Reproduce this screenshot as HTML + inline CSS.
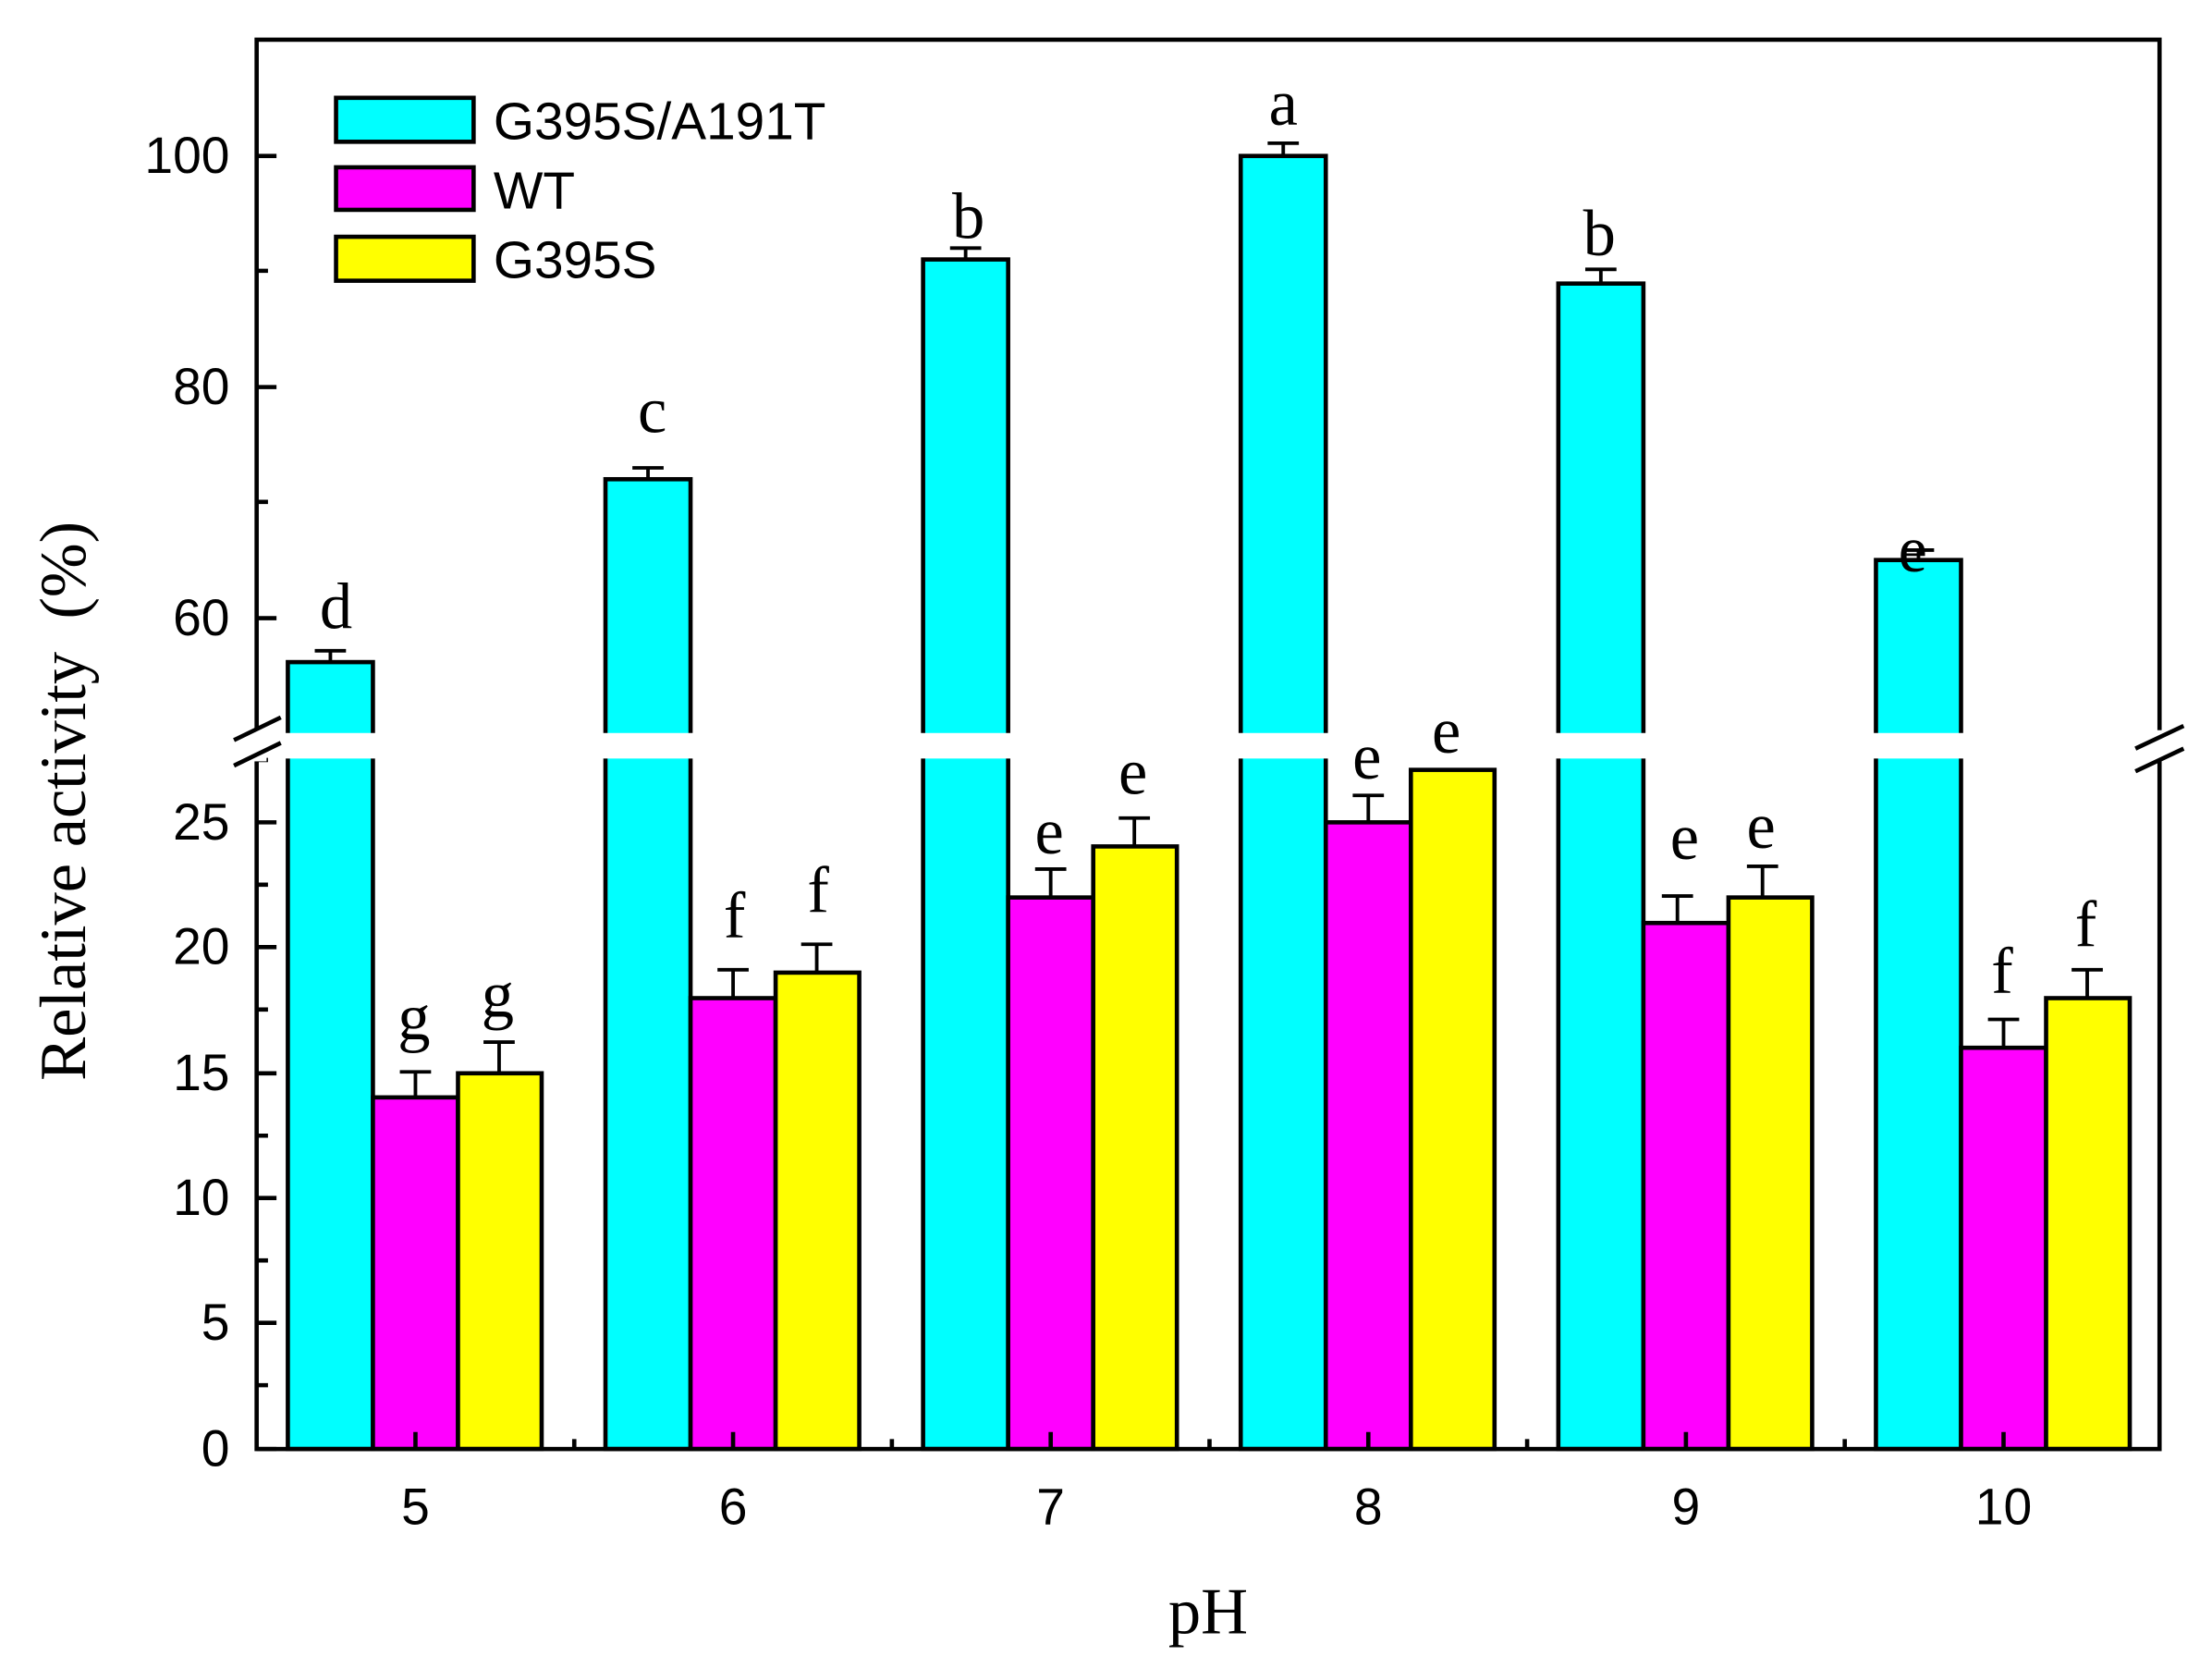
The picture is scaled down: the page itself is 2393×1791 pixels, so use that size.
<!DOCTYPE html>
<html><head><meta charset="utf-8"><style>html,body{margin:0;padding:0;background:#fff}svg{display:block}</style></head><body>
<svg width="2393" height="1791" viewBox="0 0 1560 1168" preserveAspectRatio="none" xmlns="http://www.w3.org/2000/svg">
<rect width="1560" height="1168" fill="#fff"/>
<g stroke="#000" stroke-width="3">
<rect x="203" y="467" width="60" height="555" fill="#00FFFF"/>
<rect x="263" y="774" width="60" height="248" fill="#FF00FF"/>
<rect x="323" y="757" width="59" height="265" fill="#FFFF00"/>
<rect x="427" y="338" width="60" height="684" fill="#00FFFF"/>
<rect x="487" y="704" width="60" height="318" fill="#FF00FF"/>
<rect x="547" y="686" width="59" height="336" fill="#FFFF00"/>
<rect x="651" y="183" width="60" height="839" fill="#00FFFF"/>
<rect x="711" y="633" width="60" height="389" fill="#FF00FF"/>
<rect x="771" y="597" width="59" height="425" fill="#FFFF00"/>
<rect x="875" y="110" width="60" height="912" fill="#00FFFF"/>
<rect x="935" y="580" width="60" height="442" fill="#FF00FF"/>
<rect x="995" y="543" width="59" height="479" fill="#FFFF00"/>
<rect x="1099" y="200" width="60" height="822" fill="#00FFFF"/>
<rect x="1159" y="651" width="60" height="371" fill="#FF00FF"/>
<rect x="1219" y="633" width="59" height="389" fill="#FFFF00"/>
<rect x="1323" y="395" width="60" height="627" fill="#00FFFF"/>
<rect x="1383" y="739" width="60" height="283" fill="#FF00FF"/>
<rect x="1443" y="704" width="59" height="318" fill="#FFFF00"/>
</g>
<g stroke="#000" stroke-width="2.5" fill="none">
<path d="M233 467V459M222 459H244"/>
<path d="M457 338V330M446 330H468"/>
<path d="M681 183V175M670 175H692"/>
<path d="M905 110V101M894 101H916"/>
<path d="M1129 200V190M1118 190H1140"/>
<path d="M1353 395V388M1342 388H1364"/>
<path d="M293 774V756M282 756H304"/>
<path d="M352 757V735M341 735H363"/>
<path d="M517 704V684M506 684H528"/>
<path d="M576 686V666M565 666H587"/>
<path d="M741 633V613M730 613H752"/>
<path d="M800 597V577M789 577H811"/>
<path d="M965 580V561M954 561H976"/>
<path d="M1183 651V632M1172 632H1194"/>
<path d="M1243 633V611M1232 611H1254"/>
<path d="M1413 739V719M1402 719H1424"/>
<path d="M1472 704V684M1461 684H1483"/>
</g>
<rect x="184" y="517" width="1336" height="18" fill="#fff"/>
<g stroke="#000" stroke-width="3" fill="none">
<rect x="181" y="28" width="1342" height="994"/>
<path d="M181 110H195M181 273H195M181 436H195M181 191H189M181 354H189"/>
<path d="M181 1022H195M181 933H195M181 845H195M181 757H195M181 668H195M181 580H195"/>
<path d="M181 977H189M181 889H189M181 801H189M181 712H189M181 624H189M181 536H189"/>
<path d="M293 1022V1010M517 1022V1010M741 1022V1010M965 1022V1010M1189 1022V1010M1413 1022V1010"/>
<path d="M405 1022V1015M629 1022V1015M853 1022V1015M1077 1022V1015M1301 1022V1015"/>
</g>
<rect x="176" y="515" width="12" height="22" fill="#fff"/>
<rect x="1517" y="515" width="12" height="22" fill="#fff"/>
<g stroke="#000" stroke-width="3">
<path d="M165 522L198 506M165 540L198 524"/>
<path d="M1506 540L1540 524M1506 524L1540 508" transform="translate(0,4)"/>
</g>
<g stroke="#000" stroke-width="3">
<rect x="237" y="69" width="97" height="31" fill="#00FFFF"/>
<rect x="237" y="118" width="97" height="30" fill="#FF00FF"/>
<rect x="237" y="167" width="97" height="31" fill="#FFFF00"/>
</g>
<g font-family="Liberation Sans, Arial, sans-serif" font-size="37" fill="#000">
<text x="348" y="98">G395S/A191T</text>
<text x="348" y="147">WT</text>
<text x="348" y="196">G395S</text>
</g>
<g font-family="Liberation Sans, Arial, sans-serif" font-size="36" fill="#000" text-anchor="end">
<text x="162" y="122">100</text>
<text x="162" y="285">80</text>
<text x="162" y="448">60</text>
<text x="162" y="592">25</text>
<text x="162" y="680">20</text>
<text x="162" y="769">15</text>
<text x="162" y="857">10</text>
<text x="162" y="945">5</text>
<text x="162" y="1034">0</text>
</g>
<g font-family="Liberation Sans, Arial, sans-serif" font-size="36" fill="#000" text-anchor="middle">
<text x="293" y="1075">5</text><text x="517" y="1075">6</text><text x="741" y="1075">7</text>
<text x="965" y="1075">8</text><text x="1189" y="1075">9</text><text x="1413" y="1075">10</text>
</g>
<g font-family="Liberation Serif, Times New Roman, serif" font-size="46" fill="#000" text-anchor="middle">
<text x="237" y="443">d</text><text x="460" y="305">c</text><text x="683" y="168">b</text>
<text x="905" y="88">a</text><text x="1128" y="180">b</text><text x="1349" y="403">e</text>
<text x="292" y="733">g</text><text x="351" y="717">g</text>
<text x="518" y="661">f</text><text x="577" y="643">f</text>
<text x="740" y="602">e</text><text x="799" y="560">e</text>
<text x="964" y="549">e</text><text x="1020" y="531">e</text>
<text x="1188" y="606">e</text><text x="1242" y="598">e</text>
<text x="1412" y="700">f</text><text x="1471" y="667">f</text>
</g>
<text x="852" y="1152" font-family="Liberation Serif, Times New Roman, serif" font-size="46" text-anchor="middle">pH</text>
<text transform="translate(60,565) rotate(-90)" font-family="Liberation Serif, Times New Roman, serif" font-size="46" text-anchor="middle" xml:space="preserve">Relative activity  (%)</text>
</svg>
</body></html>
